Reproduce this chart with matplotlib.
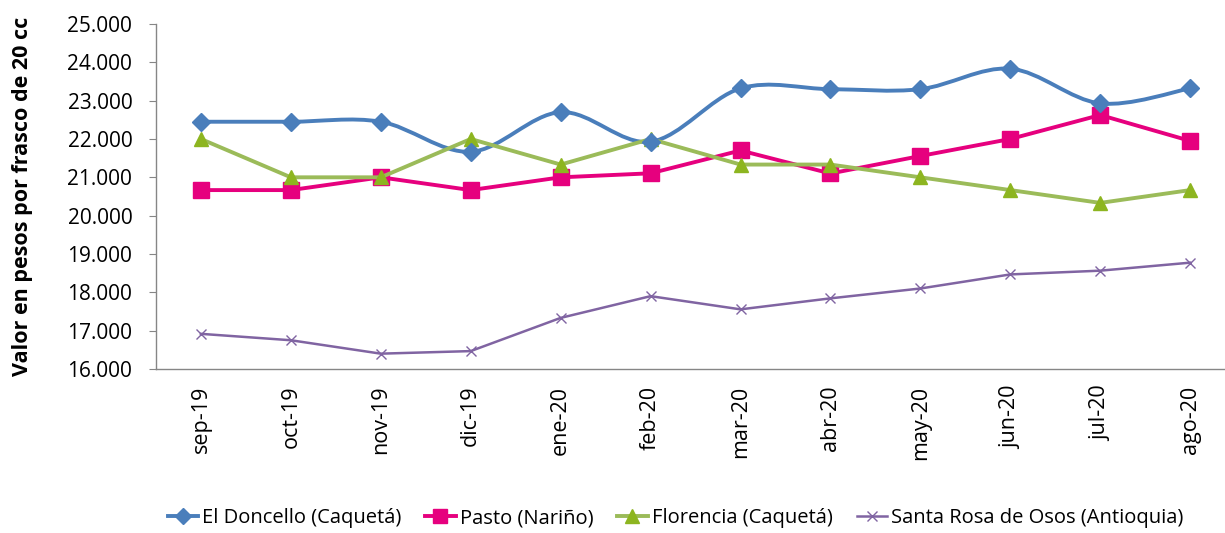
import numpy as np
import matplotlib
matplotlib.use("Agg")
import matplotlib.pyplot as plt
from matplotlib.path import Path
from matplotlib.patches import PathPatch
from matplotlib.lines import Line2D

plt.rcParams['font.family'] = ['Open Sans', 'DejaVu Sans']

meses = ['sep-19', 'oct-19', 'nov-19', 'dic-19', 'ene-20', 'feb-20',
         'mar-20', 'abr-20', 'may-20', 'jun-20', 'jul-20', 'ago-20']
el_doncello = [22450, 22450, 22450, 21667, 22700, 21929,
               23320, 23300, 23300, 23833, 22929, 23320]
pasto = [20667, 20667, 21000, 20667, 21000, 21105,
         21700, 21100, 21556, 22000, 22625, 21950]
florencia = [22000, 21000, 21000, 22000, 21333, 22000,
             21333, 21333, 21000, 20667, 20333, 20667]
santa_rosa = [16917, 16750, 16400, 16467, 17333, 17900,
              17556, 17843, 18100, 18467, 18565, 18774]

c_blue = '#4A7EBB'
c_pink = '#E6007E'
c_green = '#9BBB59'
c_green_mk = '#8DB520'
c_purple = '#8064A2'


def smooth_path(xs, ys, t=1/6.0):
    # excel-like smoothed line: cubic bezier through the points
    pts = np.column_stack([xs, ys]).astype(float)
    n = len(pts)
    verts = [pts[0]]
    codes = [Path.MOVETO]
    for i in range(n - 1):
        p0 = pts[i - 1] if i > 0 else pts[i]
        p1 = pts[i]
        p2 = pts[i + 1]
        p3 = pts[i + 2] if i + 2 < n else pts[i + 1]
        c1 = p1 + (p2 - p0) * t
        c2 = p2 - (p3 - p1) * t
        verts += [c1, c2, p2]
        codes += [Path.CURVE4] * 3
    return Path(verts, codes)


fig = plt.figure(figsize=(12.25, 5.33), dpi=100)
ax = fig.add_axes([0.1273, 0.3077, 0.881, 0.6473])

x = np.arange(len(meses))

ax.add_patch(PathPatch(smooth_path(x, el_doncello), fill=False,
                       edgecolor=c_blue, lw=2.8, zorder=3))
ax.plot(x, el_doncello, ls='none', marker='D', ms=9.5, color=c_blue, zorder=4)
ax.plot(x, pasto, color=c_pink, lw=2.8, marker='s', ms=11, zorder=3)
ax.plot(x, florencia, color=c_green, lw=2.8, marker='^', ms=10.5,
        mfc=c_green_mk, mec=c_green_mk, zorder=3)
ax.plot(x, santa_rosa, color=c_purple, lw=1.8, marker='x', ms=7.5,
        mew=1.0, zorder=3)

ax.set_xlim(-0.5, len(meses) - 0.5)
ax.set_ylim(16000, 25000)
ax.set_yticks(np.arange(16000, 25001, 1000))
ax.set_yticklabels([f'{v // 1000}.000' for v in range(16000, 25001, 1000)])
ax.set_xticks(x)
ax.set_xticklabels(meses, rotation=90)

for s in ['top', 'right']:
    ax.spines[s].set_visible(False)
for s in ['left', 'bottom']:
    ax.spines[s].set_color('#868686')
    ax.spines[s].set_linewidth(1.0)
ax.tick_params(axis='y', length=5, color='#868686', labelsize=15, pad=12)
ax.tick_params(axis='x', length=0, labelsize=15.5, pad=12)

ax.set_ylabel('Valor en pesos por frasco de 20 cc', fontsize=15.5,
              fontweight='bold', labelpad=0)
ax.yaxis.set_label_coords(-0.1135, 0.5)

handles = [
    Line2D([], [], color=c_blue, lw=2.8, marker='D', ms=8),
    Line2D([], [], color=c_pink, lw=2.8, marker='s', ms=10),
    Line2D([], [], color=c_green, lw=2.8, marker='^', ms=10,
           mfc=c_green_mk, mec=c_green_mk),
    Line2D([], [], color=c_purple, lw=1.8, marker='x', ms=7),
]
labels = ['El Doncello (Caquetá)', 'Pasto (Nariño)', 'Florencia (Caquetá)',
          'Santa Rosa de Osos (Antioquia)']
fig.legend(handles, labels, loc='lower left', bbox_to_anchor=(0.122, -0.025),
           ncol=4, frameon=False, fontsize=14.5, handlelength=1.5,
           handletextpad=0.2, columnspacing=1.2)

fig.savefig('out.png', dpi=100)
